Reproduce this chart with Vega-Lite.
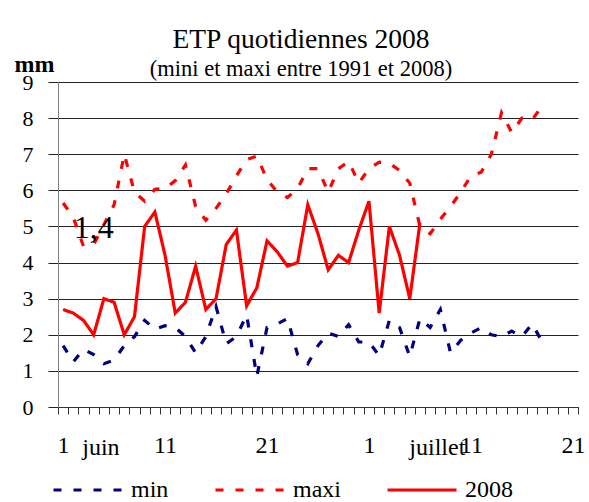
{
  "$schema": "https://vega.github.io/schema/vega-lite/v6.json",
  "width": 520,
  "height": 325,
  "autosize": {"type": "none"},
  "padding": {"left": 58, "top": 82, "right": 11, "bottom": 95},
  "background": "white",
  "config": {
    "font": "Liberation Serif",
    "view": {"stroke": null},
    "legend": {
      "orient": "none",
      "legendX": -6,
      "legendY": 372,
      "direction": "horizontal",
      "title": null,
      "symbolType": "stroke",
      "symbolSize": 4761,
      "symbolStrokeWidth": 3,
      "labelFont": "Liberation Serif",
      "labelFontSize": 24,
      "labelColor": "black",
      "labelOffset": 7,
      "columnPadding": 40,
      "labelLimit": 200
    }
  },
  "title": {
    "text": "ETP quotidiennes 2008",
    "subtitle": "(mini et maxi entre 1991 et 2008)",
    "font": "Liberation Serif",
    "subtitleFont": "Liberation Serif",
    "fontSize": 27.5,
    "fontWeight": "normal",
    "subtitleFontSize": 22.5,
    "color": "black",
    "subtitleColor": "black",
    "anchor": "middle",
    "frame": "group",
    "dx": -17,
    "offset": -28,
    "subtitlePadding": 4
  },
  "datasets": {
    "etp": [
      {"day": 1, "min": 1.7, "maxi": 5.65, "2008": 2.7},
      {"day": 2, "min": 1.25, "maxi": 5.25, "2008": 2.6},
      {"day": 3, "min": 1.6, "maxi": 4.45, "2008": 2.4},
      {"day": 4, "min": 1.45, "maxi": 4.5, "2008": 2.0},
      {"day": 5, "min": 1.2, "maxi": 5.05, "2008": 3.0},
      {"day": 6, "min": 1.3, "maxi": 5.6, "2008": 2.9},
      {"day": 7, "min": 1.7, "maxi": 7.0, "2008": 2.0},
      {"day": 8, "min": 1.95, "maxi": 5.95, "2008": 2.5},
      {"day": 9, "min": 2.4, "maxi": 5.7, "2008": 5.0},
      {"day": 10, "min": 2.15, "maxi": 6.03, "2008": 5.4},
      {"day": 11, "min": 2.25, "maxi": 6.05, "2008": 4.2},
      {"day": 12, "min": 2.2, "maxi": 6.27, "2008": 2.6},
      {"day": 13, "min": 1.95, "maxi": 6.7, "2008": 2.9},
      {"day": 14, "min": 1.5, "maxi": 5.55, "2008": 3.9},
      {"day": 15, "min": 1.95, "maxi": 5.17, "2008": 2.7},
      {"day": 16, "min": 2.78, "maxi": 5.5, "2008": 3.0},
      {"day": 17, "min": 1.75, "maxi": 5.9, "2008": 4.5},
      {"day": 18, "min": 1.95, "maxi": 6.4, "2008": 4.9},
      {"day": 19, "min": 2.55, "maxi": 6.85, "2008": 2.8},
      {"day": 20, "min": 0.85, "maxi": 6.95, "2008": 3.3},
      {"day": 21, "min": 2.2, "maxi": 6.3, "2008": 4.6},
      {"day": 22, "min": 2.3, "maxi": 5.95, "2008": 4.3},
      {"day": 23, "min": 2.45, "maxi": 5.8, "2008": 3.9},
      {"day": 24, "min": 1.45, "maxi": 6.05, "2008": 4.0},
      {"day": 25, "min": 1.2, "maxi": 6.6, "2008": 5.6},
      {"day": 26, "min": 1.7, "maxi": 6.6, "2008": 4.8},
      {"day": 27, "min": 2.05, "maxi": 5.95, "2008": 3.8},
      {"day": 28, "min": 1.95, "maxi": 6.6, "2008": 4.2},
      {"day": 29, "min": 2.28, "maxi": 6.8, "2008": 4.0},
      {"day": 30, "min": 1.8, "maxi": 6.2, "2008": 4.9},
      {"day": 31, "min": 1.8, "maxi": 6.6, "2008": 5.7},
      {"day": 32, "min": 1.42, "maxi": 6.78, "2008": 2.6},
      {"day": 33, "min": 2.4, "maxi": 6.75, "2008": 5.0},
      {"day": 34, "min": 2.2, "maxi": 6.55, "2008": 4.2},
      {"day": 35, "min": 1.4, "maxi": 6.2, "2008": 3.0},
      {"day": 36, "min": 2.45, "maxi": 5.0, "2008": 5.1},
      {"day": 37, "min": 2.2, "maxi": 4.8},
      {"day": 38, "min": 2.7, "maxi": 5.2},
      {"day": 39, "min": 1.5, "maxi": 5.55},
      {"day": 40, "min": 1.85, "maxi": 5.95},
      {"day": 41, "min": 2.05, "maxi": 6.4},
      {"day": 42, "min": 2.2, "maxi": 6.5},
      {"day": 43, "min": 2.0, "maxi": 7.0},
      {"day": 44, "min": 1.95, "maxi": 8.15},
      {"day": 45, "min": 2.1, "maxi": 7.6},
      {"day": 46, "min": 1.95, "maxi": 8.0},
      {"day": 47, "min": 2.3, "maxi": 7.95},
      {"day": 48, "min": 1.8, "maxi": 8.35}
    ],
    "mois": [
      {"day": 5, "valeur": -1.33, "label": "juin"},
      {"day": 38, "valeur": -1.33, "label": "juillet"}
    ],
    "note": [
      {"day": 4, "valeur": 4.67, "label": "1,4"}
    ]
  },
  "encoding": {
    "x": {
      "field": "day",
      "type": "ordinal",
      "scale": {
        "type": "band",
        "domain": [1,2,3,4,5,6,7,8,9,10,11,12,13,14,15,16,17,18,19,20,21,22,23,24,25,26,27,28,29,30,31,32,33,34,35,36,37,38,39,40,41,42,43,44,45,46,47,48,49,50,51],
        "paddingInner": 0,
        "paddingOuter": 0
      },
      "axis": {
        "title": null,
        "labelAngle": 0,
        "tickBand": "extent",
        "tickSize": 7,
        "tickColor": "#333333",
        "domainColor": "#333333",
        "labelFont": "Liberation Serif",
        "labelFontSize": 24,
        "labelColor": "black",
        "labelPadding": 19,
        "labelOverlap": false,
        "grid": false,
        "labelExpr": "datum.value == 1 || datum.value == 31 ? '1' : (datum.value == 11 || datum.value == 41 ? '11' : (datum.value == 21 || datum.value == 51 ? '21' : ''))"
      }
    },
    "y": {
      "field": "valeur",
      "type": "quantitative",
      "scale": {"domain": [0, 9], "nice": false},
      "axis": {
        "title": "mm",
        "titleAngle": 0,
        "titleFont": "Liberation Serif",
        "titleFontWeight": "bold",
        "titleFontSize": 24,
        "titleColor": "black",
        "titleX": -24,
        "titleY": -11,
        "titleAlign": "center",
        "titleBaseline": "alphabetic",
        "values": [0, 1, 2, 3, 4, 5, 6, 7, 8, 9],
        "labelOverlap": false,
        "tickSize": 10,
        "tickColor": "#222222",
        "labelPadding": 15,
        "labelFont": "Liberation Serif",
        "labelFontSize": 22,
        "labelColor": "black",
        "grid": true,
        "gridColor": "#222222",
        "domainColor": "#808080"
      }
    }
  },
  "layer": [
    {
      "data": {"name": "etp"},
      "transform": [
        {"fold": ["min", "maxi", "2008"], "as": ["serie", "valeur"]},
        {"filter": "isValid(datum.valeur)"}
      ],
      "mark": {"type": "line", "strokeWidth": 3.2, "strokeCap": "butt"},
      "encoding": {
        "color": {
          "field": "serie",
          "type": "nominal",
          "scale": {"domain": ["min", "maxi", "2008"], "range": ["#000080", "#FF0000", "#FF0000"]}
        },
        "strokeDash": {
          "field": "serie",
          "type": "nominal",
          "scale": {"domain": ["min", "maxi", "2008"], "range": [[8, 12], [8, 12], [1, 0]]}
        }
      }
    },
    {
      "data": {"name": "mois"},
      "mark": {"type": "text", "font": "Liberation Serif", "fontSize": 24, "color": "black", "align": "center", "baseline": "alphabetic", "dx": -3},
      "encoding": {
        "text": {"field": "label"}
      }
    },
    {
      "data": {"name": "note"},
      "mark": {"type": "text", "font": "Liberation Serif", "fontSize": 32, "color": "black", "align": "center", "baseline": "alphabetic"},
      "encoding": {
        "text": {"field": "label"}
      }
    }
  ]
}
